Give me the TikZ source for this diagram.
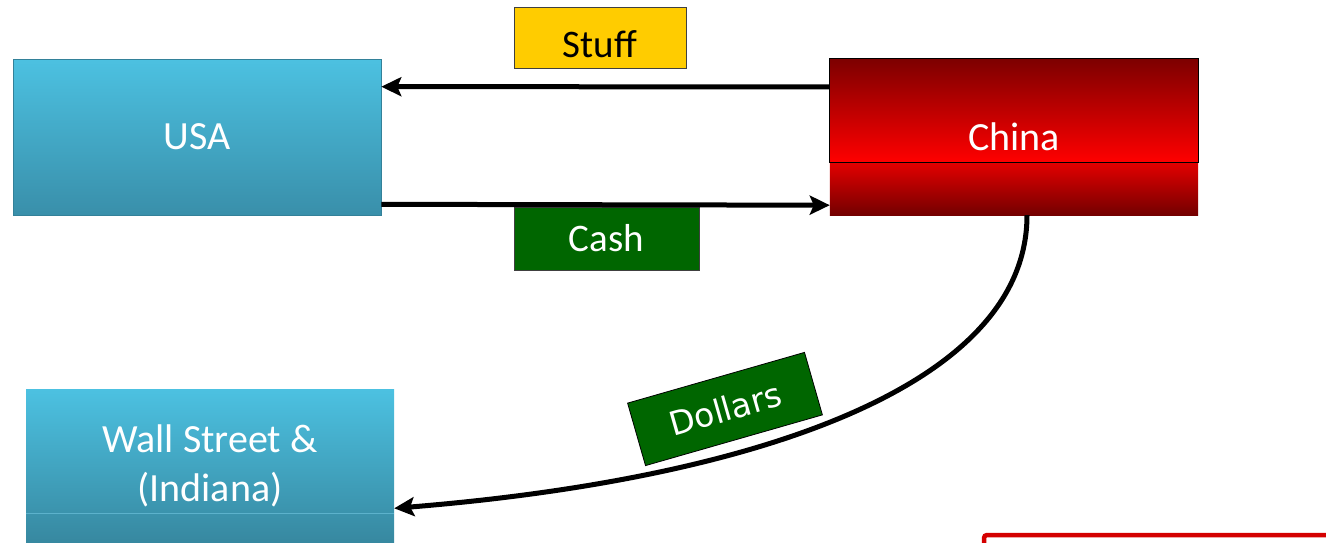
\documentclass[tikz,border=0pt]{standalone}
\usepackage{fontspec}
\setmainfont{Carlito}
\newfontfamily\dejavu{DejaVu Sans}
\usetikzlibrary{arrows.meta,backgrounds}

\definecolor{skytop}{RGB}{76,193,225}
\definecolor{skybot}{RGB}{57,143,170}
\definecolor{skylow}{RGB}{55,136,160}
\definecolor{skyline}{RGB}{92,178,204}
\definecolor{darkred}{RGB}{125,0,0}
\definecolor{midred}{RGB}{238,0,0}
\definecolor{brightred}{RGB}{255,0,0}
\definecolor{lowred}{RGB}{228,0,0}
\definecolor{deepred}{RGB}{115,0,0}
\definecolor{gold}{RGB}{255,204,0}
\definecolor{money}{RGB}{0,102,0}
\definecolor{frame}{RGB}{212,0,0}

\tikzset{
  bigtext/.style={font=\fontsize{40}{49}\selectfont, text=white},
  bluebox/.style={bigtext, inner sep=0pt, top color=skytop, bottom color=skybot,
    draw=skybot!90!black, line width=0.6pt},
  tagbox/.style={inner sep=0pt, draw=black!75, line width=0.8pt,
    font=\fontsize{39}{46}\selectfont},
  flow/.style={line width=5pt, -{Stealth[length=20pt,width=19pt,inset=4pt]}},
}

\begin{document}
\begin{tikzpicture}[x=1pt,y=-1pt]
\useasboundingbox (0,0) rectangle (1326,542);

% trading partners
\node[bluebox, minimum width=368pt, minimum height=156pt] (usa) at (197,137) {USA};
\node[bigtext, inner sep=0pt, minimum width=368pt, minimum height=156pt] (china) at (1014,137) {China};
\begin{scope}[on background layer]
  \shade[top color=darkred, middle color=midred, bottom color=brightred]
    (china.north west) rectangle ([yshift=53pt]china.south east);
  \shade[top color=lowred, bottom color=deepred]
    ([yshift=53pt]china.south west) rectangle (china.south east);
\end{scope}
\draw[black, line width=1pt] (china.north west) rectangle ([yshift=53pt]china.south east);

% financial sector
\node[bigtext, inner sep=0pt, minimum width=368pt, minimum height=153pt, align=center,
      top color=skytop, bottom color=skylow] (wall) at (210,466) {Wall Street \&\\(Indiana)};
\draw[skyline, line width=1pt] ([yshift=29pt]wall.south west) -- ([yshift=29pt]wall.south east);

% labels on the flows
\node[tagbox, fill=gold, minimum width=172pt, minimum height=61pt,
      text height=39pt, text depth=0pt] (stuff) at (600,37.5) {Stuff};
\node[tagbox, fill=money, text=white, minimum width=185pt, minimum height=63pt] (cash) at (606.5,238.5) {Cash};
\node[tagbox, fill=money, text=white, draw=black, minimum width=184pt, minimum height=65pt,
      font=\dejavu\fontsize{33}{40}\selectfont, rotate=16] (dollars) at (725,409) {Dollars};

% flows
\draw[flow] ([yshift=-28pt]china.north west) -- ([yshift=-28pt]usa.north east);
\draw[flow] ([yshift=11pt]usa.south east) -- ([yshift=10pt]china.south west);
\draw[flow] ([xshift=13pt]china.south) .. controls (1027,390) and (744,480) .. ([yshift=-119pt]wall.north east);

% frame at the lower right
\draw[frame, line width=4.5pt, rounded corners=3pt] (984,535) rectangle (1345,570);
\end{tikzpicture}
\end{document}
